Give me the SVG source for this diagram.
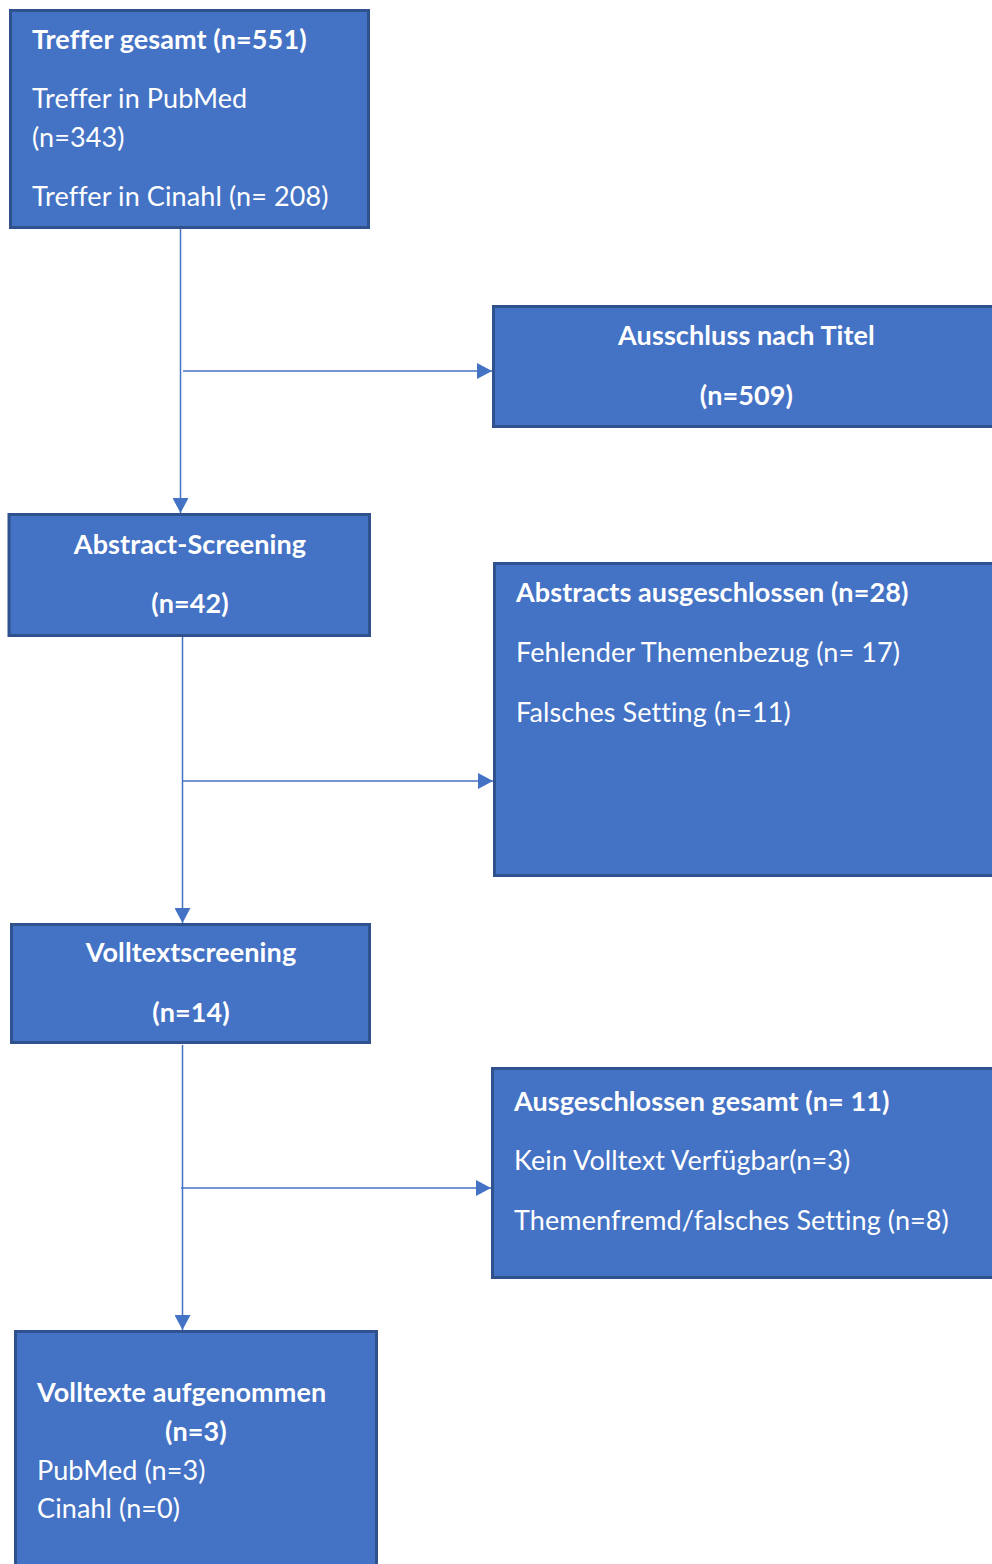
<svg xmlns="http://www.w3.org/2000/svg" width="992" height="1564" viewBox="0 0 992 1564">
<style>
.box{fill:#4472C4;stroke:#2F528F;stroke-width:3}
text{font-family:Lato,"Open Sans","Liberation Sans",sans-serif;font-size:27px;letter-spacing:0.1px;fill:#FFFFFF}
.b{font-weight:bold}
.c{text-anchor:middle}
.conn line{stroke:#4472C4;stroke-width:1.5;marker-end:url(#arr)}
</style>
<defs>
<marker id="arr" markerUnits="userSpaceOnUse" markerWidth="15" markerHeight="16" refX="15" refY="8" orient="auto">
<path d="M0,0 L15,8 L0,16 z" fill="#4472C4"/>
</marker>
</defs>
<rect width="992" height="1564" fill="#FFFFFF"/>
<g id="connectors" class="conn">
<line x1="180.5" y1="229" x2="180.5" y2="513"/>
<line x1="183" y1="371" x2="492" y2="371"/>
<line x1="182.5" y1="637" x2="182.5" y2="923"/>
<line x1="183" y1="781" x2="493" y2="781"/>
<line x1="182.5" y1="1045" x2="182.5" y2="1330"/>
<line x1="181" y1="1188" x2="491" y2="1188"/>
</g>
<g id="treffer">
<rect class="box" x="10.5" y="10.5" width="358" height="217"/>
<text class="b" x="32" y="49">Treffer gesamt (n=551)</text>
<text x="32" y="108">Treffer in PubMed</text>
<text x="32" y="147">(n=343)</text>
<text x="32" y="206">Treffer in Cinahl (n= 208)</text>
</g>
<g id="ausschluss-titel">
<rect class="box" x="493.5" y="306.5" width="520" height="120"/>
<text class="b c" x="746.5" y="345">Ausschluss nach Titel</text>
<text class="b c" x="746.5" y="405">(n=509)</text>
</g>
<g id="abstract-screening">
<rect class="box" x="9" y="514.5" width="360.5" height="121"/>
<text class="b c" x="190" y="554">Abstract-Screening</text>
<text class="b c" x="190" y="613">(n=42)</text>
</g>
<g id="abstracts-ausgeschlossen">
<rect class="box" x="494.5" y="563.5" width="520" height="312"/>
<text class="b" x="516" y="602">Abstracts ausgeschlossen (n=28)</text>
<text x="516" y="662">Fehlender Themenbezug (n= 17)</text>
<text x="516" y="722">Falsches Setting (n=11)</text>
</g>
<g id="volltextscreening">
<rect class="box" x="11.5" y="924.5" width="358" height="118"/>
<text class="b c" x="191" y="962">Volltextscreening</text>
<text class="b c" x="191" y="1022">(n=14)</text>
</g>
<g id="ausgeschlossen-gesamt">
<rect class="box" x="492.5" y="1068.5" width="520" height="209"/>
<text class="b" x="514" y="1111">Ausgeschlossen gesamt (n= 11)</text>
<text x="514" y="1170">Kein Volltext Verfügbar(n=3)</text>
<text x="514" y="1230">Themenfremd/falsches Setting (n=8)</text>
</g>
<g id="volltexte-aufgenommen">
<rect class="box" x="15.5" y="1331.5" width="361" height="300"/>
<text class="b" x="37" y="1402">Volltexte aufgenommen</text>
<text class="b c" x="196" y="1441">(n=3)</text>
<text x="37" y="1480">PubMed (n=3)</text>
<text x="37" y="1518">Cinahl (n=0)</text>
</g>
</svg>
